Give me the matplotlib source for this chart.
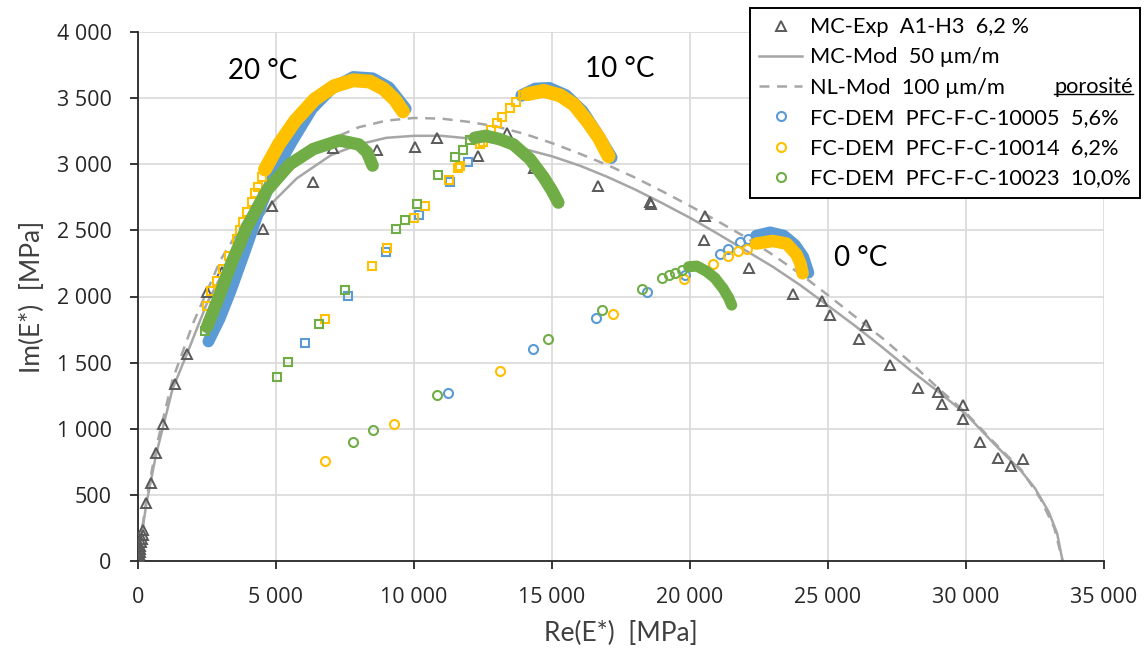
import matplotlib.pyplot as plt
from matplotlib.lines import Line2D
from matplotlib.ticker import MultipleLocator, FuncFormatter

# ---- data (Re(E*), Im(E*) in MPa) ----
# MC-Exp triangles
exp_re = [0, 15, 25, 40, 55, 70, 90, 110, 140, 170, 181, 290, 470, 650, 900, 1340, 1775,
          2490, 3030, 4518, 4844, 6353, 7050, 8670, 10036, 10822, 12330, 13355, 14348,
          16679, 18551, 18600, 20543, 20518, 22138, 23743, 24770, 25072, 26377, 26123,
          27246, 28250, 28996, 29118, 29877, 29877, 30507, 31148, 31619, 32075]
exp_im = [0, 10, 30, 50, 70, 90, 110, 140, 170, 200, 235, 440, 592, 820, 1033, 1336, 1564,
          2035, 2186, 2508, 2683, 2868, 3126, 3109, 3134, 3200, 3065, 3235, 2969,
          2837, 2711, 2700, 2610, 2425, 2217, 2020, 1964, 1863, 1784, 1678,
          1481, 1306, 1281, 1190, 1179, 1071, 899, 780, 716, 775]

# MC-Mod (solid) and NL-Mod (dashed) curves
mc_re = [0, 100, 300, 650, 1250, 1800, 2500, 3500, 4900, 5750, 7000, 8000, 9000, 10000,
         11000, 12000, 13000, 14000, 15000, 16000, 17000, 18000, 19000, 20000, 21000,
         22000, 23000, 24000, 25000, 26000, 27000, 28000, 29000, 30000, 31000, 32000,
         32500, 33000, 33300, 33500]
mc_im = [0, 150, 430, 800, 1300, 1580, 1950, 2350, 2716, 2893, 3070, 3150, 3200, 3215,
         3215, 3195, 3160, 3115, 3060, 2990, 2905, 2810, 2705, 2595, 2475,
         2350, 2225, 2085, 1931, 1775, 1610, 1440, 1280, 1110, 890, 680,
         550, 370, 210, 0]
nl_re = [0, 100, 300, 650, 1250, 2000, 3000, 4000, 5000, 6000, 7000, 8000, 9000, 10000,
         11000, 12000, 13000, 14000, 15000, 16000, 17000, 18000, 19000, 20000, 21000,
         22000, 23000, 24000, 25000, 26000, 27000, 28000, 29000, 30000, 31000, 32000,
         32700, 33200, 33500]
nl_im = [0, 170, 460, 850, 1370, 1800, 2280, 2620, 2880, 3060, 3190, 3280, 3330, 3350,
         3345, 3320, 3285, 3230, 3160, 3080, 2995, 2900, 2795, 2685, 2570,
         2450, 2315, 2170, 2010, 1845, 1680, 1500, 1305, 1120, 900, 690,
         470, 250, 0]

# FC-DEM PFC-F-C-10005 (blue)
b20_re = [2550, 2950, 3350, 3900, 4400, 5000, 5600, 6300, 7000, 7800, 8500, 9100, 9700]
b20_im = [1660, 1830, 2040, 2360, 2660, 2960, 3180, 3420, 3570, 3660, 3650, 3580, 3420]
b10_band_re = [13900, 14400, 14900, 15500, 16100, 16600, 17150]
b10_band_im = [3520, 3570, 3575, 3520, 3400, 3240, 3050]
b10_sq_re = [6051, 7597, 9000, 10170, 11304, 11968]
b10_sq_im = [1645, 2007, 2333, 2620, 2868, 3019]
b0_ci_re = [11244, 14324, 16594, 18430, 19819, 21087, 21380, 21812, 22112]
b0_ci_im = [1273, 1602, 1835, 2033, 2159, 2323, 2360, 2412, 2432]
b0_band_re = [22400, 22900, 23400, 23800, 24100, 24290]
b0_band_im = [2460, 2485, 2460, 2390, 2300, 2180]

# FC-DEM PFC-F-C-10014 (yellow)
y20_band_re = [4600, 5100, 5700, 6400, 7100, 7800, 8400, 8900, 9300, 9600]
y20_band_im = [2960, 3150, 3330, 3490, 3590, 3635, 3625, 3570, 3490, 3400]
y20_sq_re = [2490, 2650, 2850, 3090, 3300, 3570, 3700, 3810, 3950, 4120, 4250, 4360, 4480]
y20_sq_im = [1930, 2040, 2120, 2205, 2310, 2437, 2500, 2564, 2640, 2716, 2780, 2830, 2906]
y10_band_re = [14100, 14700, 15300, 15800, 16300, 16700, 17050]
y10_band_im = [3530, 3555, 3520, 3450, 3320, 3200, 3060]
y10_sq_re = [6775, 8467, 9030, 10011, 10399, 11268, 11606, 11650, 12380, 12512, 12800,
             12995, 13200, 13478, 13700, 13961]
y10_sq_im = [1830, 2228, 2369, 2597, 2683, 2881, 2974, 2990, 3150, 3171, 3260,
             3310, 3360, 3424, 3470, 3525]
y0_ci_re = [6775, 9275, 13116, 17221, 19795, 20845, 21388, 21750, 22053]
y0_ci_im = [754, 1033, 1437, 1868, 2134, 2247, 2303, 2341, 2361]
y0_band_re = [22400, 23000, 23500, 23850, 24000, 24080]
y0_band_im = [2400, 2420, 2400, 2320, 2250, 2175]

# FC-DEM PFC-F-C-10023 (green)
g20_band_re = [2500, 2900, 3400, 3937, 4660, 5500, 6350, 7300, 8000, 8300, 8500]
g20_band_im = [1770, 1980, 2260, 2520, 2800, 3000, 3115, 3180, 3150, 3090, 2990]
g20_sq_re = [2440, 2550]
g20_sq_im = [1740, 1790]
g10_band_re = [12200, 12600, 13100, 13600, 14200, 14700, 15000, 15230]
g10_band_im = [3200, 3215, 3190, 3150, 3040, 2900, 2800, 2710]
g10_sq_re = [5024, 5446, 6558, 7512, 9336, 9674, 10097, 10880, 11486, 11787, 12029]
g10_sq_im = [1395, 1508, 1795, 2050, 2508, 2577, 2698, 2919, 3057, 3107, 3183]
g0_ci_re = [7802, 8527, 10845, 14855, 16800, 18272, 18974, 19250, 19450, 19698]
g0_ci_im = [901, 990, 1253, 1678, 1900, 2058, 2139, 2159, 2175, 2204]
g0_band_re = [19950, 20250, 20600, 20900, 21200, 21400, 21510]
g0_band_im = [2225, 2230, 2190, 2140, 2060, 1990, 1935]

temp_labels = ["20 °C", "10 °C", "0 °C"]
temp_re = [4529, 17464, 26196]
temp_im = [3703, 3722, 2289]

legend_labels = ["MC-Exp  A1-H3  6,2 %", "MC-Mod  50 µm/m", "NL-Mod  100 µm/m",
                 "FC-DEM  PFC-F-C-10005  5,6%", "FC-DEM  PFC-F-C-10014  6,2%",
                 "FC-DEM  PFC-F-C-10023  10,0%"]

BLUE = "#5B9BD5"
YELLOW = "#FFC000"
GREEN = "#70AD47"
GREY = "#A6A6A6"
DARK = "#595959"
TXT = ["Lato", "DejaVu Sans"]
NUM = ["Open Sans", "DejaVu Sans"]

fig = plt.figure(figsize=(11.44, 6.51), dpi=100)
ax = fig.add_axes([138 / 1144, 1 - 561 / 651, 966 / 1144, 529 / 651])

mc_line, = ax.plot(mc_re, mc_im, color=GREY, lw=1.8, zorder=2)
nl_line, = ax.plot(nl_re, nl_im, color=GREY, lw=1.8, ls=(0, (4, 3)), zorder=2)
exp_pts, = ax.plot(exp_re, exp_im, ls="none", marker="^", ms=7, mfc="none", mec=DARK,
                   mew=1.4, zorder=3)

band = dict(solid_capstyle="round", solid_joinstyle="round")
sq = dict(ls="none", marker="s", ms=5.5, mfc="none", mew=1.5)
ci = dict(ls="none", marker="o", ms=6.5, mfc="none", mew=1.5)

# blue
ax.plot(b20_re, b20_im, color=BLUE, lw=8.5, zorder=4, **band)
ax.plot(b10_band_re, b10_band_im, color=BLUE, lw=9, zorder=4, **band)
ax.plot(b0_band_re, b0_band_im, color=BLUE, lw=8.5, zorder=4, **band)
ax.plot(b10_sq_re, b10_sq_im, mec=BLUE, zorder=4, **sq)
blue_ci, = ax.plot(b0_ci_re, b0_ci_im, mec=BLUE, zorder=4, **ci)

# yellow
ax.plot(y20_band_re, y20_band_im, color=YELLOW, lw=10, zorder=5, **band)
ax.plot(y10_band_re, y10_band_im, color=YELLOW, lw=10, zorder=5, **band)
ax.plot(y0_band_re, y0_band_im, color=YELLOW, lw=9, zorder=5, **band)
ax.plot(y20_sq_re, y20_sq_im, mec=YELLOW, zorder=5, **sq)
ax.plot(y10_sq_re, y10_sq_im, mec=YELLOW, zorder=5, **sq)
yellow_ci, = ax.plot(y0_ci_re, y0_ci_im, mec=YELLOW, zorder=5, **ci)

# green
ax.plot(g20_band_re, g20_band_im, color=GREEN, lw=9, zorder=6, **band)
ax.plot(g10_band_re, g10_band_im, color=GREEN, lw=9, zorder=6, **band)
ax.plot(g0_band_re, g0_band_im, color=GREEN, lw=8, zorder=6, **band)
ax.plot(g20_sq_re, g20_sq_im, mec=GREEN, zorder=6, **sq)
ax.plot(g10_sq_re, g10_sq_im, mec=GREEN, zorder=6, **sq)
green_ci, = ax.plot(g0_ci_re, g0_ci_im, mec=GREEN, zorder=6, **ci)

for lab, x, y in zip(temp_labels, temp_re, temp_im):
    ax.text(x, y, lab, fontsize=20, family=TXT, ha="center", va="center", zorder=7)

ax.set_xlim(0, 35000)
ax.set_ylim(0, 4000)
ax.xaxis.set_major_locator(MultipleLocator(5000))
ax.yaxis.set_major_locator(MultipleLocator(500))
fmt = FuncFormatter(lambda v, p: f"{v:,.0f}".replace(",", " "))
ax.xaxis.set_major_formatter(fmt)
ax.yaxis.set_major_formatter(fmt)
ax.grid(True, color="#D9D9D9", lw=1.2)
ax.set_axisbelow(True)
for s in ["top", "right"]:
    ax.spines[s].set_visible(False)
for s in ["left", "bottom"]:
    ax.spines[s].set_color("#262626")
    ax.spines[s].set_linewidth(1.3)
ax.tick_params(length=6, width=1.3, color="#262626", labelsize=15.5, labelcolor="#262626")
ax.tick_params(axis="y", pad=13)
ax.tick_params(axis="x", pad=13)
for t in ax.get_xticklabels() + ax.get_yticklabels():
    t.set_family(NUM)

ax.set_xlabel("Re(E*)  [MPa]", fontsize=19, family=TXT, color="#404040", labelpad=9)
ax.set_ylabel("Im(E*)  [MPa]", fontsize=19, family=TXT, color="#404040", labelpad=8)

leg = ax.legend([exp_pts, mc_line, nl_line, blue_ci, yellow_ci, green_ci], legend_labels,
                loc="upper right", bbox_to_anchor=(1140 / 1144, 1 - 8 / 651),
                bbox_transform=fig.transFigure, borderaxespad=0, fancybox=False,
                framealpha=1, edgecolor="black", prop={"family": TXT, "size": 15.7},
                borderpad=0.42, labelspacing=0.47, handlelength=2.0, handletextpad=0.35)
leg.get_frame().set_linewidth(1.4)
leg.set_zorder(10)

por = fig.text(1133 / 1144, 1 - 87 / 651, "porosité", fontsize=15.7, family=TXT,
               ha="right", va="center", zorder=11)
fig.canvas.draw()
bb = por.get_window_extent().transformed(fig.transFigure.inverted())
fig.add_artist(Line2D([bb.x0, bb.x1], [bb.y0 + 0.004, bb.y0 + 0.004], color="black",
                      lw=1, transform=fig.transFigure, zorder=11))

fig.savefig("out.png", dpi=100)
